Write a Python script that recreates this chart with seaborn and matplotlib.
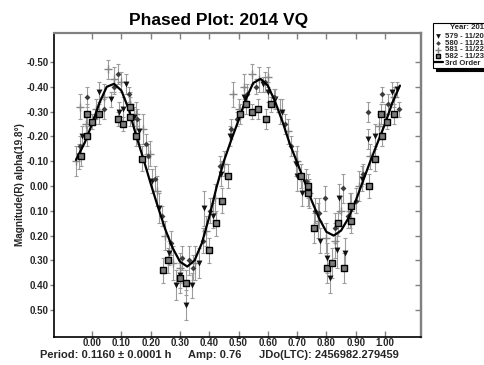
import matplotlib.pyplot as plt
import seaborn as sns

# session 579 (triangles)
ph_579 = [-0.045, -0.035, 0.025, 0.064, 0.092, 0.107, 0.115, 0.143, 0.160, 0.205,
          0.230, 0.262, 0.287, 0.300, 0.321, 0.340, 0.366, 0.382, 0.414, 0.440,
          0.470, 0.520, 0.585, 0.600, 0.625, 0.650, 0.696, 0.699, 0.716, 0.778,
          0.801, 0.812, 0.837, 0.844, 0.863, 0.920, 0.943, 0.966, 1.023, 1.040]
mag_579 = [-0.12, -0.20, -0.38, -0.35, -0.30, -0.31, -0.41, -0.28, -0.22, -0.02,
           0.09, 0.27, 0.40, 0.36, 0.48, 0.40, 0.31, 0.09, 0.12, -0.05,
           -0.20, -0.36, -0.41, -0.38, -0.35, -0.30, -0.09, -0.04, 0.03, 0.22,
           0.29, 0.37, 0.26, 0.05, 0.27, -0.03, -0.19, -0.20, -0.38, -0.39]
err_579 = [0.05, 0.04, 0.04, 0.03, 0.04, 0.05, 0.04, 0.04, 0.05, 0.05,
           0.06, 0.05, 0.06, 0.05, 0.06, 0.05, 0.06, 0.07, 0.05, 0.05,
           0.04, 0.04, 0.03, 0.04, 0.04, 0.05, 0.05, 0.06, 0.05, 0.05,
           0.06, 0.06, 0.07, 0.06, 0.06, 0.05, 0.04, 0.05, 0.04, 0.03]

# session 580 (diamonds)
ph_580 = [-0.040, -0.016, 0.010, 0.042, 0.075, 0.090, 0.125, 0.155, 0.184, 0.192,
          0.215, 0.240, 0.270, 0.306, 0.330, 0.346, 0.380, 0.403, 0.437, 0.473,
          0.495, 0.530, 0.560, 0.590, 0.620, 0.660, 0.680, 0.730, 0.760, 0.776,
          0.795, 0.830, 0.858, 0.875, 0.901, 0.925, 0.941, 0.989, 1.010, 1.048]
mag_580 = [-0.16, -0.36, -0.28, -0.31, -0.40, -0.45, -0.37, -0.27, -0.17, -0.12,
           -0.03, 0.12, 0.23, 0.29, 0.30, 0.33, 0.22, 0.10, -0.08, -0.23,
           -0.27, -0.37, -0.40, -0.42, -0.36, -0.25, -0.16, -0.02, 0.10, 0.11,
           0.05, 0.17, 0.01, 0.12, 0.06, -0.05, -0.30, -0.37, -0.33, -0.31]
err_580 = [0.04, 0.04, 0.03, 0.04, 0.03, 0.04, 0.03, 0.04, 0.04, 0.05,
           0.05, 0.04, 0.05, 0.05, 0.06, 0.05, 0.05, 0.05, 0.04, 0.04,
           0.03, 0.04, 0.03, 0.04, 0.03, 0.04, 0.04, 0.05, 0.05, 0.06,
           0.05, 0.06, 0.06, 0.05, 0.05, 0.04, 0.04, 0.03, 0.04, 0.03]

# session 581 (plus)
ph_581 = [-0.055, -0.041, -0.020, 0.015, 0.040, 0.056, 0.075, 0.100, 0.130, 0.150,
          0.175, 0.198, 0.220, 0.250, 0.275, 0.300, 0.350, 0.390, 0.420, 0.450,
          0.482, 0.500, 0.520, 0.545, 0.570, 0.600, 0.640, 0.670, 0.700, 0.740,
          0.770, 0.800, 0.830, 0.850, 0.880, 0.910, 0.950, 0.980, 1.000, 1.030]
mag_581 = [-0.10, -0.32, -0.25, -0.31, -0.36, -0.47, -0.43, -0.42, -0.33, -0.29,
           -0.23, -0.13, 0.02, 0.20, 0.31, 0.33, 0.31, 0.18, 0.05, -0.09,
           -0.37, -0.31, -0.40, -0.45, -0.43, -0.44, -0.30, -0.22, -0.10, 0.03,
           0.14, 0.21, 0.22, 0.10, 0.10, 0.00, -0.12, -0.24, -0.29, -0.36]
err_581 = [0.06, 0.05, 0.05, 0.04, 0.05, 0.04, 0.05, 0.04, 0.05, 0.05,
           0.06, 0.05, 0.06, 0.06, 0.07, 0.06, 0.07, 0.06, 0.06, 0.05,
           0.05, 0.04, 0.05, 0.04, 0.05, 0.04, 0.05, 0.05, 0.06, 0.06,
           0.07, 0.06, 0.07, 0.06, 0.07, 0.06, 0.05, 0.05, 0.04, 0.04]

# session 582 (squares)
ph_582 = [-0.039, -0.018, -0.016, -0.001, 0.025, 0.088, 0.107, 0.130, 0.131, 0.150,
          0.172, 0.242, 0.260, 0.300, 0.321, 0.400, 0.423, 0.442, 0.465, 0.505,
          0.524, 0.545, 0.567, 0.594, 0.610, 0.713, 0.736, 0.737, 0.756, 0.801,
          0.820, 0.841, 0.860, 0.883, 0.884, 0.946, 0.966, 0.986, 0.989, 1.006,
          1.031]
mag_582 = [-0.12, -0.29, -0.20, -0.26, -0.29, -0.27, -0.25, -0.32, -0.28, -0.20,
           -0.11, 0.34, 0.30, 0.37, 0.39, 0.26, 0.15, 0.06, -0.04, -0.29,
           -0.33, -0.30, -0.31, -0.27, -0.33, -0.04, 0.00, 0.03, 0.17, 0.33,
           0.31, 0.15, 0.33, 0.14, 0.08, 0.00, -0.11, -0.29, -0.20, -0.26,
           -0.29]
err_582 = [0.04, 0.04, 0.04, 0.03, 0.04, 0.03, 0.03, 0.04, 0.04, 0.04,
           0.05, 0.05, 0.05, 0.06, 0.05, 0.05, 0.05, 0.05, 0.05, 0.04,
           0.04, 0.03, 0.04, 0.04, 0.03, 0.05, 0.05, 0.05, 0.06, 0.06,
           0.06, 0.05, 0.06, 0.05, 0.05, 0.05, 0.05, 0.04, 0.04, 0.03,
           0.04]

# 3rd order fourier fit
fit_phase = [-0.055, -0.025, 0.000, 0.025, 0.050, 0.075, 0.100, 0.125, 0.150, 0.175,
             0.200, 0.225, 0.250, 0.275, 0.300, 0.325, 0.350, 0.375, 0.400, 0.425,
             0.450, 0.475, 0.500, 0.525, 0.550, 0.575, 0.600, 0.625, 0.650, 0.675,
             0.700, 0.725, 0.750, 0.775, 0.800, 0.825, 0.850, 0.875, 0.900, 0.925,
             0.950, 0.975, 1.000, 1.025, 1.051]
fit_mag = [-0.105, -0.175, -0.250, -0.335, -0.400, -0.412, -0.385, -0.310, -0.205, -0.110,
           -0.010, 0.085, 0.175, 0.250, 0.305, 0.325, 0.300, 0.230, 0.125, 0.005,
           -0.100, -0.185, -0.265, -0.350, -0.415, -0.432, -0.405, -0.340, -0.260, -0.170,
           -0.095, -0.020, 0.060, 0.130, 0.185, 0.200, 0.180, 0.130, 0.060, -0.020,
           -0.100, -0.175, -0.250, -0.335, -0.405]

xticks = [0.0, 0.1, 0.2, 0.3, 0.4, 0.5, 0.6, 0.7, 0.8, 0.9, 1.0]
xtick_labels = ["0.00", "0.10", "0.20", "0.30", "0.40", "0.50", "0.60", "0.70", "0.80", "0.90", "1.00"]
yticks = [-0.5, -0.4, -0.3, -0.2, -0.1, 0.0, 0.1, 0.2, 0.3, 0.4, 0.5]
ytick_labels = ["-0.50", "-0.40", "-0.30", "-0.20", "-0.10", "0.00", "0.10", "0.20", "0.30", "0.40", "0.50"]

sns.set_theme(style="white")
plt.rcParams['font.family'] = ['Liberation Sans', 'DejaVu Sans']
plt.rcParams['font.weight'] = 'bold'

fig = plt.figure(figsize=(4.85, 3.65), dpi=100)
ax = fig.add_axes([54 / 485, 28 / 365, 367 / 485, 304 / 365])

sessions = [
    ("579 - 11/20/2014", ph_579, mag_579, err_579),
    ("580 - 11/21/2014", ph_580, mag_580, err_580),
    ("581 - 11/22/2014", ph_581, mag_581, err_581),
    ("582 - 11/23/2014", ph_582, mag_582, err_582),
]
for label, ph, mag, err in sessions:
    ax.errorbar(ph, mag, yerr=err, fmt="none", ecolor="#9c9c9c",
                elinewidth=0.8, capsize=1.7, capthick=0.8, zorder=1)

sns.scatterplot(x=ph_579, y=mag_579, marker="v", color="#111111", s=18,
                linewidth=0, ax=ax, label=sessions[0][0], zorder=3)
sns.scatterplot(x=ph_580, y=mag_580, marker="D", color="#3c3c3c", s=9,
                linewidth=0, ax=ax, label=sessions[1][0], zorder=3)
sns.scatterplot(x=ph_581, y=mag_581, marker="+", color="#858585", s=30,
                linewidth=1.0, ax=ax, label=sessions[2][0], zorder=2)
sns.scatterplot(x=ph_582, y=mag_582, marker="s", color="#7c7c7c", s=17,
                edgecolor="black", linewidth=1.0, ax=ax, label=sessions[3][0], zorder=5)
sns.lineplot(x=fit_phase, y=fit_mag, sort=False, estimator=None, color="black",
             linewidth=1.6, ax=ax, label="3rd Order", zorder=4)

ax.set_xlim(-0.13, 1.123)
ax.set_ylim(0.609, -0.617)
ax.set_xticks(xticks, labels=xtick_labels)
ax.set_yticks(yticks, labels=ytick_labels)
ax.set_xlabel("")
ax.set_ylabel("")

for side in ["left", "bottom"]:
    ax.spines[side].set_color("black")
    ax.spines[side].set_linewidth(1.2)
for side in ["top", "right"]:
    ax.spines[side].set_color("#808080")
    ax.spines[side].set_linewidth(1.6)

ax.tick_params(axis="x", direction="in", bottom=True, top=True, length=4, width=1,
               color="#808080", labelsize=7, pad=0.5)
ax.tick_params(axis="y", direction="out", left=True, right=False, length=3, width=1,
               color="#808080", labelsize=7, pad=1)
right = ax.secondary_yaxis("right")
right.set_yticks(yticks, labels=[])
right.tick_params(direction="in", length=4, width=1, color="#808080")
right.spines["right"].set_color("#808080")
right.spines["right"].set_linewidth(1.6)

handles, labels = ax.get_legend_handles_labels()
leg = ax.legend(handles, labels, title="Year: 2014", loc="upper left",
                bbox_to_anchor=(433 / 485, 1 - 23 / 365), bbox_transform=fig.transFigure,
                fontsize=5.6, title_fontproperties={"size": 5.6, "weight": "bold"},
                frameon=True, fancybox=False, edgecolor="black", framealpha=1,
                borderpad=0.15, labelspacing=-0.05, handlelength=1.1, handletextpad=0.3,
                handleheight=0.6, borderaxespad=0, markerscale=0.8,
                shadow={"color": "black", "alpha": 1})
leg.get_frame().set_linewidth(0.8)
leg._legend_box.sep = 1

fig.text(219 / 485, 1 - 20 / 365, "Phased Plot: 2014 VQ", ha="center", va="center",
         fontsize=12.5, fontweight="bold", color="black")
fig.text(20 / 485, 1 - 185 / 365, "Magnitude(R) alpha(19.8°)", rotation=90,
         ha="center", va="center", fontsize=7.2, fontweight="bold")
fig.text(40 / 485, 1 - 355 / 365, "Period: 0.1160 ± 0.0001 h", ha="left", va="center",
         fontsize=8, fontweight="bold")
fig.text(188 / 485, 1 - 355 / 365, "Amp: 0.76", ha="left", va="center",
         fontsize=8, fontweight="bold")
fig.text(259 / 485, 1 - 355 / 365, "JDo(LTC): 2456982.279459", ha="left", va="center",
         fontsize=8, fontweight="bold")

fig.savefig("out.png", dpi=100)
